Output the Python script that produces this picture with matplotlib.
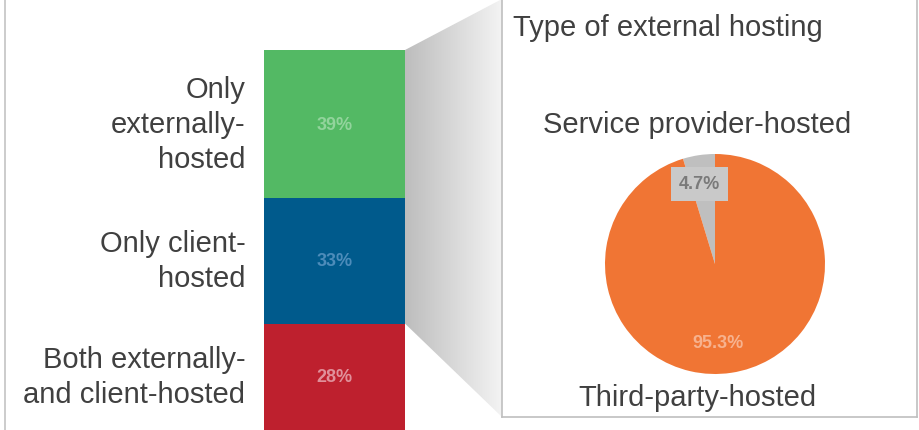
import numpy as np
import matplotlib
matplotlib.use('Agg')
import matplotlib.pyplot as plt
from matplotlib.patches import Polygon
from matplotlib.lines import Line2D

plt.rcParams['font.family'] = ['Liberation Sans', 'DejaVu Sans']

# hosting split (stacked bar, bottom -> top)
bar_labels = ['Both externally-\nand client-hosted', 'Only client-\nhosted', 'Only\nexternally-\nhosted']
bar_values = [28, 33, 39]
bar_colors = ['#be202e', '#005a8c', '#53b964']
bar_text_colors = ['#e0909a', '#4d8cba', '#92d49c']

# type of external hosting (pie)
pie_labels = ['Service provider-hosted', 'Third-party-hosted']
pie_values = [4.7, 95.3]
pie_colors = ['#bfbfbf', '#f07534']

text_color = '#404040'
W, H = 919, 431

fig = plt.figure(figsize=(W / 100, H / 100), dpi=100)

# background axes in pixel coordinates, used for the connector
ax_bg = fig.add_axes([0, 0, 1, 1], zorder=0)
ax_bg.set_xlim(0, W)
ax_bg.set_ylim(H, 0)
ax_bg.axis('off')

# stacked bar
ax_bar = fig.add_axes([264 / W, 0, (405 - 264) / W, (H - 51) / H], zorder=2)
bottom = 0
for lab, v, c, tc in zip(bar_labels, bar_values, bar_colors, bar_text_colors):
    ax_bar.bar(0, v, width=1, bottom=bottom, color=c, linewidth=0)
    mid = bottom + v / 2
    ax_bar.text(0, mid, '%d%%' % v, ha='center', va='center', fontsize=13,
                color=tc, fontweight='bold')
    ax_bar.annotate(lab, xy=(-0.5, mid), xytext=(-13.5, 0), textcoords='offset points',
                    ha='right', va='center', fontsize=21, color=text_color,
                    linespacing=1.32)
    bottom += v
ax_bar.set_xlim(-0.5, 0.5)
ax_bar.set_ylim(0, sum(bar_values))
ax_bar.axis('off')

# box for the pie
ax_box = fig.add_axes([502 / W, 13 / H, 415 / W, (H - 13) / H], zorder=1)
ax_box.set_xticks([])
ax_box.set_yticks([])
for s in ax_box.spines.values():
    s.set_color('#bfbfbf')
    s.set_linewidth(1.2)
ax_box.spines['top'].set_visible(False)
ax_box.text(11 / 415, 1 - 28 / 418, 'Type of external hosting', transform=ax_box.transAxes,
            ha='left', va='center', fontsize=21, color=text_color)

# pie
ax_pie = fig.add_axes([(715 - 110) / W, (H - 375) / H, 220 / W, 220 / H], zorder=3)
ax_pie.pie(pie_values, colors=pie_colors, startangle=90, counterclock=True,
           radius=1, wedgeprops=dict(linewidth=0))
ax_pie.set_xlim(-1, 1)
ax_pie.set_ylim(-1, 1)
ax_pie.axis('off')
ax_pie.text(0.42, 1.136, pie_labels[0], transform=ax_pie.transAxes, ha='center',
            va='center', fontsize=21, color=text_color)
ax_pie.text(0.42, -0.105, pie_labels[1], transform=ax_pie.transAxes, ha='center',
            va='center', fontsize=21, color=text_color)
ax_pie.text(0.43, 0.864, '%.1f%%' % pie_values[0], transform=ax_pie.transAxes,
            ha='center', va='center', fontsize=13, color='#7a7a7a', fontweight='bold',
            bbox=dict(boxstyle='square,pad=0.45', fc='#c9c9c9', ec='none'))
ax_pie.text(0.515, 0.145, '%.1f%%' % pie_values[1], transform=ax_pie.transAxes,
            ha='center', va='center', fontsize=13, color='#f7b28e', fontweight='bold')

# connector from bar (external part) to pie box, with gradient
fig.canvas.draw()
inv = ax_bg.transData.inverted()
p_top = inv.transform(ax_bar.transData.transform((0.5, sum(bar_values))))
p_bot = inv.transform(ax_bar.transData.transform((0.5, bar_values[0])))
q_top = inv.transform(ax_box.transAxes.transform((0, 1)))
q_bot = inv.transform(ax_box.transAxes.transform((0, 0)))
verts = np.array([p_top, q_top, q_bot, p_bot])
poly = Polygon(verts, closed=True, facecolor='none', edgecolor='none')
ax_bg.add_patch(poly)
grad = np.linspace(0, 1, 256).reshape(1, -1)
cmap = matplotlib.colors.LinearSegmentedColormap.from_list('g', ['#bdbdbd', '#f4f4f4'])
im = ax_bg.imshow(grad, cmap=cmap, aspect='auto',
                  extent=[p_top[0], q_top[0], verts[:, 1].max(), verts[:, 1].min()])
im.set_clip_path(poly)
ax_bg.set_xlim(0, W)
ax_bg.set_ylim(H, 0)

# left border
fig.add_artist(Line2D([5 / W, 5 / W], [0, 1], color='#c4c4c4', linewidth=1.2))

fig.savefig('out.png', dpi=100)
